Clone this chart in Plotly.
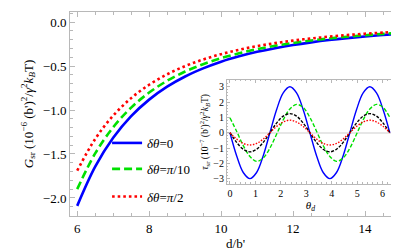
import plotly.graph_objects as go

# ---- main panel data ----
d_vals = [6, 6.5, 7, 7.5, 8, 8.5, 9, 9.5, 10, 10.5, 11, 11.5, 12, 12.5, 13, 13.5, 14, 14.5, 15]
g_dtheta_0 = [-2.09, -1.644, -1.316, -1.070, -0.882, -0.735, -0.619, -0.527, -0.451, -0.390,
              -0.339, -0.297, -0.261, -0.231, -0.205, -0.183, -0.164, -0.148, -0.134]
g_dtheta_pi10 = [-1.90, -1.494, -1.196, -0.973, -0.802, -0.668, -0.563, -0.479, -0.410, -0.355,
                 -0.308, -0.270, -0.238, -0.210, -0.187, -0.167, -0.150, -0.135, -0.122]
g_dtheta_pi2 = [-1.69, -1.329, -1.064, -0.865, -0.713, -0.594, -0.501, -0.426, -0.365, -0.315,
                -0.274, -0.240, -0.211, -0.187, -0.166, -0.148, -0.133, -0.120, -0.108]
legend_labels = ["<i>δθ</i>=0", "<i>δθ</i>=<i>π</i>/10", "<i>δθ</i>=<i>π</i>/2"]

# ---- inset data, theta_d in steps of pi/12 ----
theta_vals = [k * 3.14159265 / 12 for k in range(25)]
tau_blue = [0, -1.5, -2.6, -3.0, -2.6, -1.5, 0, 1.5, 2.6, 3.0, 2.6, 1.5,
            0, -1.5, -2.6, -3.0, -2.6, -1.5, 0, 1.5, 2.6, 3.0, 2.6, 1.5, 0]
tau_green = [0.98, 0.10, -0.84, -1.55, -1.87, -1.65, -1.01, -0.10, 0.84, 1.55, 1.85, 1.65,
             1.0, 0.10, -0.84, -1.55, -1.87, -1.65, -1.01, -0.10, 0.84, 1.55, 1.85, 1.65, 1.0]
tau_black = [0, -0.63, -1.08, -1.25, -1.08, -0.63, 0, 0.63, 1.08, 1.25, 1.08, 0.63,
             0, -0.63, -1.08, -1.25, -1.08, -0.63, 0, 0.63, 1.08, 1.25, 1.08, 0.63, 0]
tau_red = [0, -0.41, -0.70, -0.80, -0.70, -0.41, 0, 0.41, 0.70, 0.82, 0.70, 0.41,
           0, -0.41, -0.70, -0.80, -0.70, -0.41, 0, 0.41, 0.70, 0.82, 0.70, 0.41, 0]

SERIF = "Liberation Serif"
FRAME = "#b8b8b8"

fig = go.Figure()
fig.add_trace(go.Scatter(x=d_vals, y=g_dtheta_0, mode="lines", name=legend_labels[0],
                         legend="legend",
                         line=dict(color="#0000ff", width=2.6, shape="spline")))
fig.add_trace(go.Scatter(x=d_vals, y=g_dtheta_pi10, mode="lines", name=legend_labels[1],
                         legend="legend2",
                         line=dict(color="#00e000", width=2.6, dash="8px,4px", shape="spline")))
fig.add_trace(go.Scatter(x=d_vals, y=g_dtheta_pi2, mode="lines", name=legend_labels[2],
                         legend="legend3",
                         line=dict(color="#ff0000", width=2.6, dash="2.6px,3px", shape="spline")))

inset_style = [(tau_blue, "#0000ff", "solid"), (tau_green, "#00e000", "4px,2px"),
               (tau_black, "#000000", "3px,1.5px"), (tau_red, "#ff0000", "1.5px,1.5px")]
for ys, col, dash in inset_style:
    fig.add_trace(go.Scatter(x=theta_vals, y=ys, mode="lines", showlegend=False,
                             xaxis="x2", yaxis="y2",
                             line=dict(color=col, width=1.4, dash=dash, shape="spline")))

axis_common = dict(showline=True, linecolor=FRAME, linewidth=1, mirror="ticks",
                   ticks="inside", tickcolor=FRAME, showgrid=False, zeroline=False)

leg_common = dict(xanchor="left", yanchor="middle", bgcolor="rgba(0,0,0,0)",
                  font=dict(size=13, family=SERIF), itemwidth=30)

fig.update_layout(
    width=399, height=252,
    margin=dict(l=62, r=6, t=4, b=44),
    plot_bgcolor="white", paper_bgcolor="white",
    font=dict(family=SERIF, size=13, color="black"),
    xaxis=dict(range=[5.8, 15.0], tickvals=[6, 8, 10, 12, 14], ticklen=5,
               minor=dict(ticks="inside", dtick=0.5, ticklen=3, tickcolor=FRAME),
               title=dict(text="d/b'", font=dict(size=13), standoff=4),
               tickfont=dict(size=13), **axis_common),
    yaxis=dict(range=[-2.205, 0.114], tickvals=[0, -0.5, -1.0, -1.5, -2.0],
               ticktext=["0.0", "−0.5", "−1.0", "−1.5", "−2.0"], ticklen=5,
               minor=dict(ticks="inside", dtick=0.1, ticklen=3, tickcolor=FRAME),
               title=dict(text="<i>G</i><sub>sr</sub> (10<sup>−6</sup> (b')<sup>2</sup>/<i>γ</i><sup>2</sup><i>k</i><sub><i>B</i></sub>T)",
                          font=dict(size=13), standoff=6),
               tickfont=dict(size=13), **axis_common),
    xaxis2=dict(domain=[0.474, 0.979], anchor="y2", range=[-0.12, 6.45],
                tickvals=[0, 1, 2, 3, 4, 5, 6], ticklen=3,
                minor=dict(ticks="inside", dtick=0.2, ticklen=1.5, tickcolor=FRAME),
                tickfont=dict(size=10),
                title=dict(text="<i>θ</i><sub><i>d</i></sub>", font=dict(size=11), standoff=3),
                **axis_common),
    yaxis2=dict(domain=[0.157, 0.667], anchor="x2", range=[-3.35, 3.45],
                tickvals=[-3, -2, -1, 0, 1, 2, 3],
                ticktext=["−3", "−2", "−1", "0", "1", "2", "3"], ticklen=3,
                minor=dict(ticks="inside", dtick=0.2, ticklen=1.5, tickcolor=FRAME),
                tickfont=dict(size=10),
                title=dict(text="<i>τ</i><sub>sr</sub> (10<sup>−7</sup> (b')<sup>2</sup>/<i>γ</i><sup>2</sup><i>k</i><sub><i>B</i></sub>T)",
                           font=dict(size=9.5), standoff=2),
                **{**axis_common, "zeroline": True, "zerolinecolor": "#e6e6e6", "zerolinewidth": 2}),
    legend=dict(x=0.112, y=0.358, **leg_common),
    legend2=dict(x=0.112, y=0.231, **leg_common),
    legend3=dict(x=0.112, y=0.095, **leg_common),
    showlegend=True,
)

fig.write_html("out.html")
